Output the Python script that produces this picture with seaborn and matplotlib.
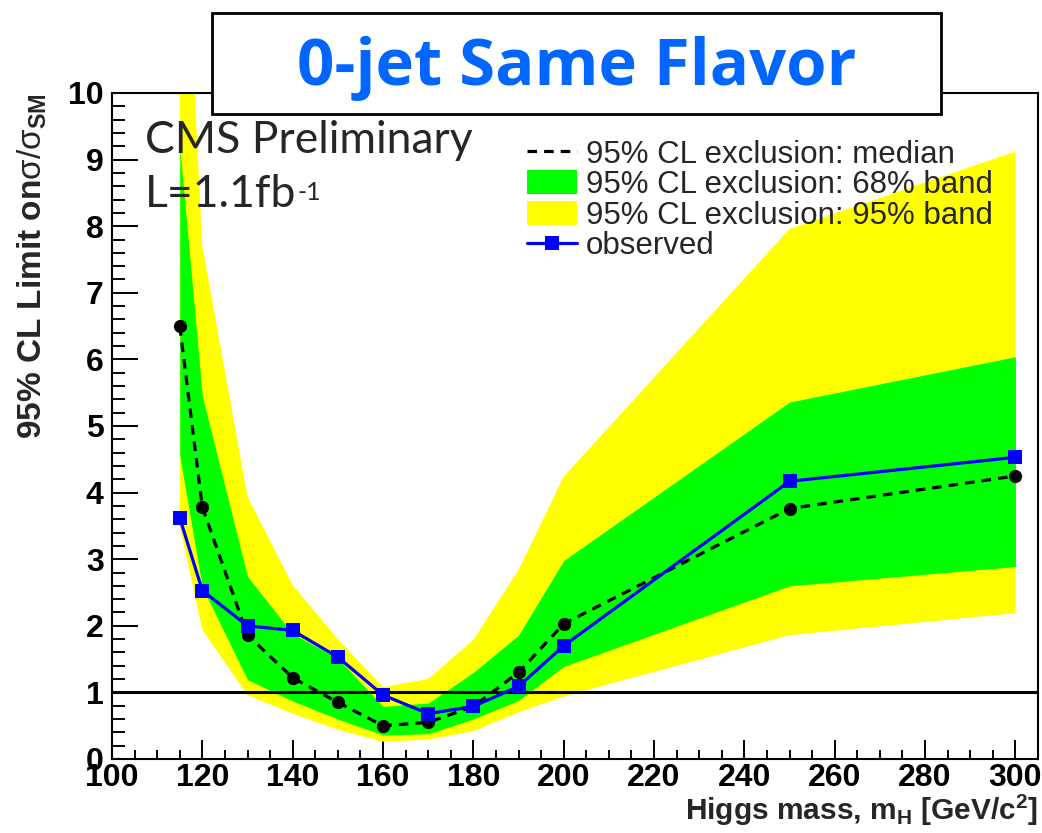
import matplotlib
matplotlib.use("Agg")
import numpy as np
import pandas as pd
import seaborn as sns
import matplotlib.pyplot as plt
from matplotlib.lines import Line2D
from matplotlib.patches import Patch, Rectangle
from matplotlib.ticker import MultipleLocator

# ---------------- data ----------------
mass = [115, 120, 130, 140, 150, 160, 170, 180, 190, 200, 250, 300]
median = [6.50, 3.78, 1.86, 1.22, 0.85, 0.50, 0.55, 0.79, 1.30, 2.03, 3.76, 4.25]
observed = [3.62, 2.53, 2.00, 1.93, 1.53, 0.96, 0.68, 0.79, 1.09, 1.70, 4.17, 4.53]
band68_lo = [4.55, 2.58, 1.19, 0.87, 0.60, 0.36, 0.38, 0.60, 0.88, 1.39, 2.60, 2.89]
band68_hi = [9.20, 5.45, 2.74, 1.88, 1.51, 0.79, 0.84, 1.30, 1.86, 2.98, 5.36, 6.04]
band95_lo = [3.50, 1.94, 0.96, 0.68, 0.44, 0.26, 0.29, 0.42, 0.70, 0.94, 1.86, 2.19]
band95_hi = [14.5, 7.70, 3.94, 2.61, 1.80, 1.08, 1.20, 1.79, 2.84, 4.24, 7.96, 9.12]

legend_labels = ["95% CL exclusion: median",
                 "95% CL exclusion: 68% band",
                 "95% CL exclusion: 95% band",
                 "observed"]
title_text = "0-jet Same Flavor"
xlabel = r"Higgs mass, m$_{\mathbf{H}}$ [GeV/c$^{\mathbf{2}}$]"
ylabel = r"95% CL Limit on$\mathrm{\sigma}/\mathrm{\sigma}_{\mathbf{SM}}$"

df = pd.DataFrame({"mass": mass, "median": median, "observed": observed,
                   "lo68": band68_lo, "hi68": band68_hi,
                   "lo95": band95_lo, "hi95": band95_hi})

# ---------------- style ----------------
sns.set_theme(style="ticks")
plt.rcParams["font.family"] = ["Liberation Sans", "DejaVu Sans"]
plt.rcParams["mathtext.fontset"] = "custom"
plt.rcParams["mathtext.rm"] = "Liberation Sans"
plt.rcParams["mathtext.bf"] = "Liberation Sans:bold"
plt.rcParams["mathtext.it"] = "Liberation Sans:italic"
plt.rcParams["mathtext.sf"] = "Liberation Sans"

YELLOW = "#ffff00"
GREEN = "#00ff00"
BLUE = "#0000ff"

W, H = 1042, 833
fig = plt.figure(figsize=(W / 100, H / 100), dpi=100)
ax = fig.add_axes([112 / W, 1 - 759 / H, 926 / W, 666 / H])

ax.fill_between(df["mass"], df["lo95"], df["hi95"], color=YELLOW, lw=0, zorder=1)
ax.fill_between(df["mass"], df["lo68"], df["hi68"], color=GREEN, lw=0, zorder=2)
ax.axhline(1, color="black", lw=2.2, zorder=3)

sns.lineplot(data=df, x="mass", y="median", ax=ax, color="black", lw=2.3,
             linestyle=(0, (3, 2.2)), marker="o", markersize=9.5,
             markeredgewidth=0, sort=False, estimator=None, zorder=4, legend=False)
sns.lineplot(data=df, x="mass", y="observed", ax=ax, color=BLUE, lw=2.3,
             marker="s", markersize=10, markeredgewidth=0, sort=False,
             estimator=None, zorder=5, legend=False)

ax.set_xlim(100, 305)
ax.set_ylim(0, 10)
ax.xaxis.set_major_locator(MultipleLocator(20))
ax.xaxis.set_minor_locator(MultipleLocator(5))
ax.yaxis.set_major_locator(MultipleLocator(1))
ax.yaxis.set_minor_locator(MultipleLocator(0.2))
ax.tick_params(axis="both", which="both", direction="in", width=1.4,
               colors="black", labelsize=23)
ax.tick_params(axis="y", which="major", length=18.7, pad=6)
ax.tick_params(axis="y", which="minor", length=9.4)
ax.tick_params(axis="x", which="major", length=13.7, pad=3)
ax.tick_params(axis="x", which="minor", length=6.5)
for lab in ax.get_xticklabels() + ax.get_yticklabels():
    lab.set_fontweight("bold")
for sp in ax.spines.values():
    sp.set_visible(True)
    sp.set_linewidth(1.5)
    sp.set_color("black")

ax.set_ylabel(ylabel, fontsize=24, fontweight="bold", loc="top")
ax.yaxis.set_label_coords(-0.068, 1.0)
ax.set_xlabel(xlabel, fontsize=21.5, fontweight="bold", loc="right")
ax.xaxis.set_label_coords(1.0, -0.05)

# CMS text
ax.text(0.0356, 0.910, "CMS Preliminary", transform=ax.transAxes,
        fontsize=32, family="Lato", va="baseline", ha="left", zorder=10)
lt = ax.text(0.0356, 0.829, "L=1.1fb", transform=ax.transAxes,
             fontsize=32, family="Lato", va="baseline", ha="left", zorder=10)
ax.annotate("-1", xy=(1.0, 1.0), xycoords=lt, xytext=(1, -5),
            textcoords="offset points", fontsize=18, family="Lato",
            va="top", ha="left", zorder=10)

# legend
handles = [Line2D([], [], color="black", lw=2.3, linestyle=(0, (3, 2.2))),
           Patch(facecolor=GREEN, edgecolor="none"),
           Patch(facecolor=YELLOW, edgecolor="none"),
           Line2D([], [], color=BLUE, lw=2.3, marker="s", markersize=10,
                  markeredgewidth=0)]
ax.legend(handles, legend_labels, loc="upper left", bbox_to_anchor=(0.448, 0.93),
          frameon=False, fontsize=22.5, handlelength=1.6, handleheight=0.8,
          handletextpad=0.3, labelspacing=0.02, borderpad=0, borderaxespad=0,
          numpoints=1)

# title box
rect = Rectangle((212 / W, 1 - 114 / H), (941 - 212) / W, (114 - 13) / H,
                 transform=fig.transFigure, facecolor="white", edgecolor="black",
                 lw=2, zorder=10)
fig.add_artist(rect)
fig.text(576.5 / W, 1 - 85 / H, title_text, ha="center", va="baseline",
         fontsize=47, fontweight="bold", family="Open Sans", color="#0066ff",
         zorder=11)

fig.savefig("out.png", dpi=100, facecolor="white")
